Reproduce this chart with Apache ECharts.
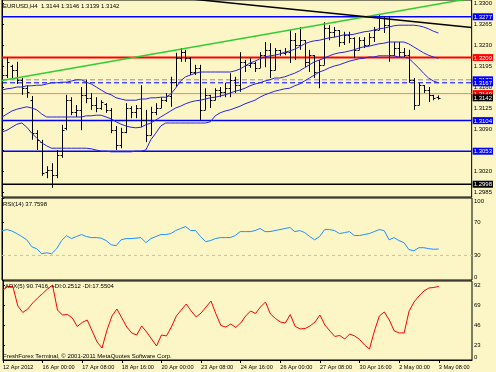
<!DOCTYPE html>
<html><head><meta charset="utf-8">
<script src="https://cdn.jsdelivr.net/npm/echarts@6/dist/echarts.min.js"></script>
<style>html,body{margin:0;padding:0;background:#fcf6c6}#c{width:496px;height:372px}</style>
</head><body><div id="c"></div>
<script>
// ---- data ----
const timeLabels = ['12 Apr 2012','16 Apr 00:00','17 Apr 08:00','18 Apr 16:00','20 Apr 00:00','23 Apr 08:00','24 Apr 16:00','26 Apr 00:00','27 Apr 08:00','30 Apr 16:00','2 May 00:00','3 May 08:00'];
const labelBars = [0,8,16,24,32,40,48,56,64,72,80,88];
const priceTicks = [1.2985,1.3020,1.3055,1.3090,1.3125,1.3160,1.3195,1.3230,1.3265,1.3300];
const rsiTicks = [0,30,70,100];
const adxTicks = [92,69,46,23];

const open = [1.3155,1.3180,1.3195,1.3188,1.3172,1.3158,1.3138,1.3083,1.3068,1.3018,
1.3022,1.3013,1.3047,1.3092,1.3138,1.3118,1.3122,1.3147,1.3142,1.3130,
1.3125,1.3132,1.3122,1.3088,1.3063,1.3085,1.3125,1.3118,1.3125,1.3105,
1.3080,1.3118,1.3125,1.3138,1.3145,1.3168,1.3208,1.3218,1.3208,1.3185,
1.3192,1.3122,1.3147,1.3138,1.3155,1.3152,1.3158,1.3172,1.3163,1.3202,
1.3197,1.3200,1.3192,1.3213,1.3222,1.3188,1.3222,1.3217,1.3218,1.3238,
1.3230,1.3238,1.3202,1.3213,1.3185,1.3197,1.3258,1.3252,1.3255,1.3235,
1.3247,1.3242,1.3222,1.3238,1.3230,1.3243,1.3255,1.3275,1.3263,1.3213,
1.3225,1.3218,1.3213,1.3172,1.3130,1.3163,1.3155,1.3147,1.3144];
const high = [1.3188,1.3210,1.3197,1.3202,1.3175,1.3163,1.3145,1.3088,1.3072,1.3028,
1.3033,1.3055,1.3097,1.3147,1.3143,1.3130,1.3160,1.3172,1.3150,1.3143,
1.3138,1.3133,1.3125,1.3095,1.3092,1.3133,1.3128,1.3130,1.3163,1.3122,
1.3127,1.3133,1.3143,1.3150,1.3177,1.3217,1.3225,1.3222,1.3210,1.3197,
1.3197,1.3158,1.3147,1.3158,1.3160,1.3167,1.3183,1.3177,1.3218,1.3205,
1.3208,1.3202,1.3218,1.3235,1.3233,1.3225,1.3222,1.3225,1.3255,1.3250,
1.3260,1.3238,1.3222,1.3213,1.3205,1.3268,1.3263,1.3260,1.3255,1.3252,
1.3252,1.3243,1.3243,1.3243,1.3250,1.3260,1.3280,1.3277,1.3277,1.3235,
1.3235,1.3225,1.3222,1.3175,1.3167,1.3163,1.3160,1.3147,1.3146];
const low = [1.3138,1.3175,1.3175,1.3165,1.3147,1.3142,1.3072,1.3055,1.3012,1.3008,
1.2992,1.3008,1.3042,1.3088,1.3113,1.3110,1.3088,1.3133,1.3122,1.3118,
1.3122,1.3117,1.3083,1.3055,1.3058,1.3083,1.3108,1.3108,1.3093,1.3068,
1.3080,1.3113,1.3125,1.3135,1.3127,1.3160,1.3202,1.3202,1.3180,1.3180,
1.3105,1.3122,1.3125,1.3138,1.3143,1.3143,1.3143,1.3150,1.3152,1.3185,
1.3192,1.3185,1.3192,1.3193,1.3175,1.3188,1.3212,1.3213,1.3200,1.3205,
1.3222,1.3193,1.3185,1.3175,1.3158,1.3197,1.3238,1.3243,1.3227,1.3230,
1.3233,1.3208,1.3222,1.3225,1.3230,1.3235,1.3255,1.3250,1.3202,1.3212,
1.3210,1.3210,1.3167,1.3122,1.3130,1.3150,1.3135,1.3138,1.3139];
const close = [1.3180,1.3202,1.3188,1.3172,1.3158,1.3152,1.3083,1.3072,1.3017,1.3022,
1.3013,1.3047,1.3088,1.3138,1.3118,1.3122,1.3147,1.3142,1.3130,1.3125,
1.3135,1.3122,1.3088,1.3063,1.3085,1.3125,1.3118,1.3125,1.3105,1.3080,
1.3118,1.3125,1.3138,1.3145,1.3168,1.3208,1.3218,1.3208,1.3185,1.3192,
1.3122,1.3147,1.3138,1.3155,1.3152,1.3158,1.3172,1.3163,1.3202,1.3197,
1.3200,1.3192,1.3213,1.3222,1.3188,1.3222,1.3217,1.3218,1.3238,1.3230,
1.3238,1.3202,1.3213,1.3185,1.3197,1.3258,1.3252,1.3255,1.3235,1.3247,
1.3242,1.3222,1.3238,1.3230,1.3243,1.3255,1.3275,1.3263,1.3213,1.3225,
1.3218,1.3213,1.3172,1.3130,1.3163,1.3155,1.3147,1.3142,1.3142];

const bbUpper = [1.3155,1.3157,1.3158,1.3160,1.3160,1.3162,1.3162,1.3163,1.3163,1.3165,
1.3167,1.3167,1.3168,1.3168,1.3170,1.3172,1.3172,1.3168,1.3165,1.3160,
1.3155,1.3150,1.3147,1.3142,1.3140,1.3138,1.3138,1.3138,1.3140,1.3140,
1.3142,1.3142,1.3143,1.3143,1.3148,1.3158,1.3170,1.3177,1.3180,1.3183,
1.3185,1.3185,1.3185,1.3185,1.3185,1.3185,1.3185,1.3187,1.3190,1.3195,
1.3200,1.3203,1.3207,1.3210,1.3212,1.3213,1.3215,1.3218,1.3220,1.3223,
1.3227,1.3232,1.3235,1.3237,1.3238,1.3240,1.3242,1.3243,1.3245,1.3247,
1.3247,1.3248,1.3250,1.3252,1.3253,1.3255,1.3257,1.3258,1.3260,1.3262,
1.3263,1.3263,1.3263,1.3263,1.3262,1.3260,1.3257,1.3253,1.3250];
const bbMiddle = [1.3110,1.3115,1.3120,1.3123,1.3125,1.3127,1.3125,1.3122,1.3115,1.3110,
1.3110,1.3110,1.3110,1.3110,1.3110,1.3110,1.3110,1.3112,1.3112,1.3113,
1.3113,1.3110,1.3107,1.3102,1.3098,1.3095,1.3093,1.3092,1.3093,1.3097,
1.3100,1.3105,1.3110,1.3115,1.3120,1.3125,1.3128,1.3132,1.3135,1.3137,
1.3138,1.3140,1.3142,1.3143,1.3145,1.3147,1.3150,1.3153,1.3155,1.3158,
1.3162,1.3165,1.3167,1.3170,1.3172,1.3175,1.3175,1.3177,1.3180,1.3183,
1.3187,1.3192,1.3197,1.3202,1.3205,1.3208,1.3212,1.3215,1.3217,1.3218,
1.3220,1.3222,1.3225,1.3227,1.3228,1.3230,1.3232,1.3233,1.3235,1.3235,
1.3235,1.3235,1.3232,1.3227,1.3222,1.3217,1.3213,1.3210,1.3208];
const bbLower = [1.3085,1.3088,1.3093,1.3098,1.3100,1.3093,1.3083,1.3075,1.3067,1.3062,
1.3058,1.3058,1.3058,1.3058,1.3058,1.3058,1.3058,1.3058,1.3057,1.3055,
1.3053,1.3053,1.3052,1.3052,1.3052,1.3052,1.3052,1.3053,1.3053,1.3055,
1.3072,1.3083,1.3095,1.3100,1.3100,1.3100,1.3100,1.3100,1.3100,1.3100,
1.3100,1.3100,1.3102,1.3112,1.3117,1.3120,1.3122,1.3125,1.3128,1.3132,
1.3135,1.3138,1.3143,1.3147,1.3150,1.3153,1.3155,1.3157,1.3158,1.3162,
1.3165,1.3170,1.3175,1.3180,1.3185,1.3188,1.3192,1.3195,1.3197,1.3200,
1.3203,1.3205,1.3207,1.3208,1.3210,1.3210,1.3212,1.3212,1.3212,1.3212,
1.3210,1.3210,1.3208,1.3200,1.3192,1.3183,1.3175,1.3170,1.3167];

const rsi = [60,61.5,59.7,56.6,53,49,40.6,38,32,33.2,
32,38,48,54,50.5,53,55.4,53,51.7,51.7,
51,48,43,41.8,49,50.5,50.5,51,51.7,45.5,
50.5,53,55.4,55.4,56.6,60.3,62.8,65.2,60.3,60.3,
53,46.8,48,50.5,51.7,51.7,51.7,54.2,59,59,
59,60.3,62.8,59,59,60.3,61.5,62.8,64,59,
60.3,57.8,53,49,53,61.5,61.5,60.3,56.6,57.8,
59,54.2,54.2,55.4,56.6,59,61.5,60.3,49,51.7,
48,45.5,37,35.7,39.4,39.4,38.2,37.5,37.76];
const adx = [86.6,90.6,90.6,68.3,60.9,64.9,71.8,77.5,82.6,87.8,
92.3,63.8,58,58.6,54.6,44.9,49.5,52.3,39.8,27.2,
20.3,40.9,56.9,64.9,54.6,44.3,37.5,35.2,45.5,38.6,
30.6,22.6,35.2,34.1,44.3,56.9,63.8,70.6,62.6,55.8,
60.3,67.2,74,59.2,46,44.3,47.8,43.8,48.9,56.9,
62.6,59.8,67.2,72.9,59.2,54.1,50,48.9,58.6,44.9,
42.1,42.6,45.5,50,58,46.6,39.8,33.5,34.6,30.6,
36.3,34.1,30.1,23.8,19.2,39.8,56.9,61.5,52.3,39.8,
37.5,37.5,62.6,72.9,79.8,85.5,88.9,89.5,90.74];

// trend lines: [barIndex, price]
const greenTrend = [[0,1.3171],[94.7,1.3308]];
const blackTrend = [[37.8,1.3307],[94.7,1.3259]];
// horizontal levels
const levels = [
  {v:1.3277, color:'#0000ff', w:1.5, type:'solid', box:'#0000ff'},
  {v:1.3209, color:'#ff0000', w:2, type:'solid', box:'#ff0000'},
  {v:1.3172, color:'#8c8cd0', w:1, type:[5,3], box:'#0000ff'},
  {v:1.3167, color:'#0000ff', w:1, type:[5,3], box:'#0000ff'},
  {v:1.3149, color:'#f08070', w:1, type:'solid', box:'#ff0000'},
  {v:1.3142, color:'#000000', w:0, type:'solid', box:'#000000'},
  {v:1.3104, color:'#0000ff', w:1.5, type:'solid', box:'#0000ff'},
  {v:1.3053, color:'#0000ff', w:1.5, type:'solid', box:'#0000ff'},
  {v:1.2998, color:'#000000', w:1.5, type:'solid', box:'#000000'}
];
const rsiLevel = 30;

// ---- chart ----
const FONT = 'Liberation Sans';
const TS = {fontSize:6, fontWeight:'normal', color:'#000', fontFamily:FONT};
const idx = open.map((_, i) => i);
const ohlc = idx.map(i => [i, open[i], high[i], low[i], close[i]]);
const upColor = '#000000', downColor = '#000000';
const XMIN = 0, XMAX = 94.7;

function renderOHLC(params, api) {
  const x = api.value(0);
  const o = api.coord([x, api.value(1)]);
  const h = api.coord([x, api.value(2)]);
  const l = api.coord([x, api.value(3)]);
  const c = api.coord([x, api.value(4)]);
  const px = Math.round(o[0]) + 0.5;
  const col = api.value(4) >= api.value(1) ? upColor : downColor;
  const st = {stroke: col, lineWidth: 1};
  return {type:'group', children:[
    {type:'line', shape:{x1:px, y1:h[1], x2:px, y2:l[1]}, style:st},
    {type:'line', shape:{x1:px-2, y1:Math.round(o[1])+0.5, x2:px, y2:Math.round(o[1])+0.5}, style:st},
    {type:'line', shape:{x1:px, y1:Math.round(c[1])+0.5, x2:px+2, y2:Math.round(c[1])+0.5}, style:st}
  ]};
}

const xBase = {type:'value', min:XMIN, max:XMAX, axisLine:{show:false}, axisTick:{show:false}, axisLabel:{show:false}, splitLine:{show:false}};
const yBase = {type:'value', position:'right', axisLine:{show:true, lineStyle:{color:'#000'}}, splitLine:{show:false},
  axisTick:{show:true, length:2, lineStyle:{color:'#000'}}, axisLabel:{fontSize:6, color:'#000', fontFamily:FONT, margin:2}};

const levelVals = levels.map(L => L.v);
const levelRich = {};
levels.forEach((L, i) => { levelRich['b' + i] = {color:'#fff', backgroundColor:L.box, fontSize:6, fontFamily:FONT, padding:[1,1,0,1]}; });

const levelSeries = levels.filter(L => L.w > 0).map(L => ({
  type:'line', xAxisIndex:0, yAxisIndex:0, data:[[XMIN, L.v],[XMAX, L.v]], showSymbol:false, silent:true, z:1,
  lineStyle:{color:L.color, width:L.w, type:L.type}
}));

const chart = echarts.init(document.getElementById('c'), null, {renderer:'canvas'});
chart.setOption({
  animation:false,
  backgroundColor:'#fcf6c6',
  title:[
    {text:'EURUSD,H4  1.3144 1.3146 1.3139 1.3142', left:3, top:3, padding:0, textStyle:TS},
    {text:'RSI(14) 37.7598', left:3, top:201, padding:0, textStyle:TS},
    {text:'ADX(5) 90.7416, +DI:0.2512 -DI:17.5504', left:5, top:283, padding:0, textStyle:TS},
    {text:'FreshForex Terminal, \u00a9 2001-2011 MetaQuotes Software Corp.', left:3, top:353, padding:0, textStyle:TS}
  ],
  grid:[
    {left:2, right:24, top:0, height:197, show:true, borderColor:'#000', borderWidth:1},
    {left:2, right:24, top:198, height:82, show:true, borderColor:'#000', borderWidth:1},
    {left:2, right:24, top:281, height:79, show:true, borderColor:'#000', borderWidth:1}
  ],
  xAxis:[
    Object.assign({}, xBase, {gridIndex:0}),
    Object.assign({}, xBase, {gridIndex:1}),
    Object.assign({}, xBase, {gridIndex:2,
      axisLine:{show:true, lineStyle:{color:'#000'}},
      axisTick:{show:true, length:3, customValues:labelBars, lineStyle:{color:'#000'}},
      axisLabel:{show:true, customValues:labelBars, align:'left', fontSize:5.6, color:'#000', fontFamily:FONT, margin:4,
        formatter:(v)=>timeLabels[labelBars.indexOf(Math.round(v))] || ''}})
  ],
  yAxis:[
    Object.assign({}, yBase, {gridIndex:0, min:1.29767, max:1.3305,
      axisTick:Object.assign({}, yBase.axisTick, {customValues:priceTicks}),
      axisLabel:Object.assign({}, yBase.axisLabel, {customValues:priceTicks, formatter:(v)=>v.toFixed(4)})}),
    Object.assign({}, yBase, {gridIndex:1, min:0, max:100,
      axisTick:Object.assign({}, yBase.axisTick, {customValues:rsiTicks}),
      axisLabel:Object.assign({}, yBase.axisLabel, {customValues:rsiTicks,
        formatter:(v)=> v===100 ? '{d|100}' : v===0 ? '{u|0}' : String(v),
        rich:{d:{fontSize:6, padding:[7,0,0,0]}, u:{fontSize:6, padding:[0,0,6,0]}}})}),
    Object.assign({}, yBase, {gridIndex:2, min:6.6, max:96.9,
      axisTick:Object.assign({}, yBase.axisTick, {customValues:adxTicks.concat([6.6])}),
      axisLabel:Object.assign({}, yBase.axisLabel, {customValues:adxTicks.concat([6.6]),
        formatter:(v)=> v < 10 ? '{u|0}' : String(Math.round(v)),
        rich:{u:{fontSize:6, padding:[0,0,6,0]}}})}),
    {type:'value', gridIndex:0, position:'right', min:1.29767, max:1.3305, axisLine:{show:false}, axisTick:{show:false}, splitLine:{show:false},
      axisLabel:{show:true, margin:1, customValues:levelVals, hideOverlap:false,
        formatter:(v)=>{ const i = levelVals.findIndex(x => Math.abs(x - v) < 1e-6); return '{b' + i + '|' + v.toFixed(4) + '}'; },
        rich:levelRich}}
  ],
  series: levelSeries.concat([
    {type:'line', xAxisIndex:0, yAxisIndex:0, data:idx.map(i=>[i,bbUpper[i]]), showSymbol:false, lineStyle:{color:'#2424e6', width:1}, silent:true},
    {type:'line', xAxisIndex:0, yAxisIndex:0, data:idx.map(i=>[i,bbMiddle[i]]), showSymbol:false, lineStyle:{color:'#2424e6', width:1}, silent:true},
    {type:'line', xAxisIndex:0, yAxisIndex:0, data:idx.map(i=>[i,bbLower[i]]), showSymbol:false, lineStyle:{color:'#2424e6', width:1}, silent:true},
    {type:'line', xAxisIndex:0, yAxisIndex:0, data:greenTrend, showSymbol:false, lineStyle:{color:'#33cc33', width:1.5}, silent:true},
    {type:'line', xAxisIndex:0, yAxisIndex:0, data:blackTrend, showSymbol:false, lineStyle:{color:'#000', width:1.5}, silent:true},
    {type:'custom', xAxisIndex:0, yAxisIndex:0, data:ohlc, renderItem:renderOHLC, encode:{x:0, y:[1,2,3,4]}, silent:true, clip:true},
    {type:'line', xAxisIndex:1, yAxisIndex:1, data:idx.map(i=>[i,rsi[i]]), showSymbol:false, lineStyle:{color:'#1e90ff', width:1}, silent:true},
    {type:'line', xAxisIndex:1, yAxisIndex:1, data:[[XMIN,rsiLevel],[XMAX,rsiLevel]], showSymbol:false, lineStyle:{color:'#c0c0c0', width:1, type:[3,3]}, silent:true, z:1},
    {type:'line', xAxisIndex:2, yAxisIndex:2, data:idx.map(i=>[i,adx[i]]), showSymbol:false, lineStyle:{color:'#ff0000', width:1}, silent:true}
  ])
});
</script></body></html>
